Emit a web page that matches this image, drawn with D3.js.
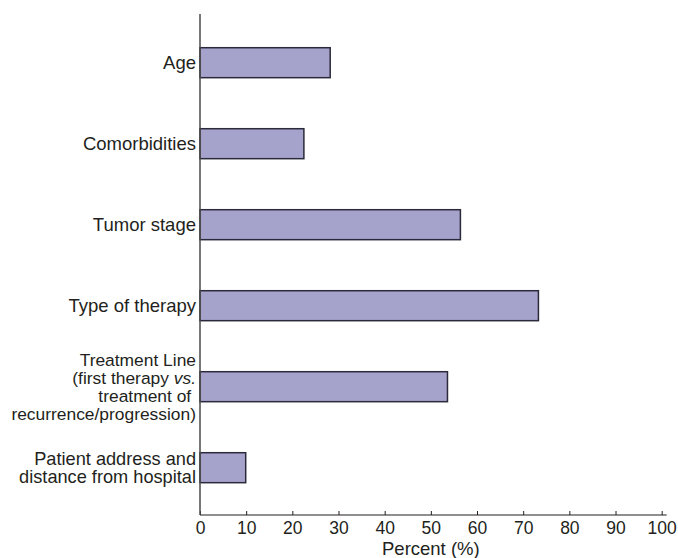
<!DOCTYPE html>
<html><head><meta charset="utf-8">
<script src="https://cdn.jsdelivr.net/npm/d3@7"></script>
<style>
html,body{margin:0;padding:0;background:#fff;}
text{font-family:"Liberation Sans",Arial,Helvetica,sans-serif;fill:#231f20;}
</style></head>
<body>
<svg id="chart" width="678" height="558"></svg>
<script>
const categories = ["Age","Comorbidities","Tumor stage","Type of therapy","Treatment Line","Patient address"];
const categoryLines = [
  ["Age"],
  ["Comorbidities"],
  ["Tumor stage"],
  ["Type of therapy"],
  ["Treatment Line","(first therapy *vs.*","treatment of ","recurrence/progression)"],
  ["Patient address and","distance from hospital"]
];
const values = [28.2, 22.5, 56.4, 73.3, 53.6, 9.9];
const xTicks = [0,10,20,30,40,50,60,70,80,90,100];
const xTitle = "Percent (%)";

const svg = d3.select("#chart");
const x = d3.scaleLinear().domain([0,100]).range([200,661.7]);
const y = d3.scaleBand().domain(categories).range([22.2,508.2]).paddingInner(0.63).paddingOuter(0.315);
const axisY = 515;

// bars
svg.append("g").selectAll("rect").data(values).join("rect")
  .attr("x", x(0))
  .attr("y", (d,i)=>y(categories[i]))
  .attr("width", d=>x(d)-x(0))
  .attr("height", y.bandwidth())
  .attr("fill","#a5a3cc")
  .attr("stroke","#2b2a3a")
  .attr("stroke-width",1.5);

// x axis
const gx = svg.append("g").attr("transform",`translate(0,${axisY})`)
  .call(d3.axisBottom(x).tickValues(xTicks).tickSizeInner(-4).tickSizeOuter(0).tickPadding(7));
gx.select(".domain").remove();
gx.append("line").attr("x1",x(0)).attr("x2",x(100)+5).attr("y1",0).attr("y2",0)
  .attr("stroke","#231f20").attr("stroke-width",1.2);
gx.selectAll(".tick line").attr("stroke","#231f20").attr("stroke-width",1);
gx.selectAll(".tick text").attr("font-size",17.5).attr("fill","#231f20")
  .style("font-family",'"Liberation Sans",Arial,sans-serif');

svg.append("text").attr("x",(x(0)+x(100))/2).attr("y",555).attr("text-anchor","middle")
  .attr("font-size",18.5).text(xTitle);

// y axis line
svg.append("line").attr("x1",x(0)).attr("x2",x(0)).attr("y1",14).attr("y2",axisY)
  .attr("stroke","#4a4a4a").attr("stroke-width",1.5);

// y labels
const lh = 18;
categoryLines.forEach((lines,i)=>{
  const cy = y(categories[i]) + y.bandwidth()/2;
  const n = lines.length;
  const fs = n > 2 ? 17.4 : (n > 1 ? 18.2 : 18.5);
  lines.forEach((ln,j)=>{
    const t = svg.append("text").attr("x",x(0)-4)
      .attr("y", cy + (j-(n-1)/2)*lh).attr("dy","0.35em")
      .attr("text-anchor","end").attr("font-size",fs)
      .attr("xml:space","preserve").style("white-space","pre");
    ln.split("*").forEach((part,k)=>{
      if(part.length===0) return;
      t.append("tspan").attr("font-style", k%2===1 ? "italic" : "normal").text(part);
    });
  });
});
</script>
</body></html>
